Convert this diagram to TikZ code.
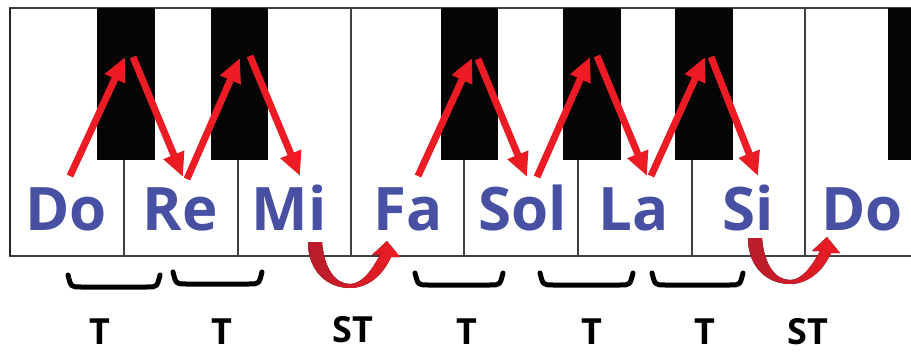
\documentclass[tikz,border=0pt]{standalone}
\usepackage{fontspec}
\setmainfont{Open Sans}
\usetikzlibrary{arrows.meta}
\definecolor{notecol}{HTML}{4750A3}
\definecolor{arrred}{HTML}{ED1C24}
\definecolor{darkred}{HTML}{B71C2A}
\definecolor{keygray}{HTML}{404040}
\begin{document}
\begin{tikzpicture}[x=1pt,y=-1pt,
  note/.style={font=\fontsize{60}{60}\selectfont\bfseries, text=notecol, anchor=base, inner sep=0pt},
  steplabel/.style={font=\fontsize{36}{36}\selectfont\bfseries, anchor=base, inner sep=0pt, text depth=0pt},
  jump/.style={draw=arrred, line width=7pt, -{Triangle[width=21pt,length=24pt]}},
  bracketline/.style={line width=5pt, line cap=round, line join=round},
  blackkey/.style={fill=black!98},
  keyborder/.style={draw=keygray, line width=1.8pt},
  curvefill/.style={left color=darkred, right color=arrred, draw=none}]
\useasboundingbox (0,0) rectangle (911,353);
% white keys
\fill[white] (10,8) rectangle (911,256);
\draw[keyborder] (911,8) -- (10,8) -- (10,256) -- (911,256);
\draw[draw=black!85, line width=2.5pt] (10,8) -- (10,256);
\foreach \x in {351,805} \draw[keyborder] (\x,8) -- (\x,256);
\foreach \x in {124,238,464,578,692} \draw[keyborder] (\x,160) -- (\x,256);
% black keys
\foreach \a/\b in {97/155,211/268,441/498,563/621,675/733,888/911}
  \fill[blackkey] (\a,8) rectangle (\b,160);
% note names
\node[note] (do1) at (66,230) {Do};
\node[note] (re)  at (180,230) {Re};
\node[note] (mi)  at (289,230) {Mi};
\node[note] (fa)  at (408,230) {Fa};
\node[note] (sol) at (523,230) {Sol};
\node[note] (la)  at (634,230) {La};
\node[note] (si)  at (748,230) {Si};
\node[note] (do2) at (862,230) {Do};
% arrow end points
\coordinate (s1) at (70,176);  \coordinate (t1) at (125,57);
\coordinate (s2) at (133,57);  \coordinate (t2) at (183,177);
\coordinate (s3) at (187,179); \coordinate (t3) at (240,58);
\coordinate (s4) at (250,56);  \coordinate (t4) at (300,176);
\coordinate (s5) at (418,176); \coordinate (t5) at (472,58);
\coordinate (s6) at (478,59);  \coordinate (t6) at (527,177);
\coordinate (s7) at (537,177); \coordinate (t7) at (590,57);
\coordinate (s8) at (597,56);  \coordinate (t8) at (647,176);
\coordinate (s9) at (651,176); \coordinate (t9) at (705,57);
\coordinate (s10) at (711,57); \coordinate (t10) at (758,176);
\foreach \i in {1,...,10} \draw[jump] (s\i) -- (t\i);
% curved semitone arrows
\foreach \dx/\dy in {0/0,440/-4}{
\begin{scope}[shift={(\dx,\dy)}]
\fill[curvefill] (308,242) .. controls (308,272) and (328,288) .. (350,288)
  .. controls (368,288) and (383,275) .. (391,257) -- (400,257) -- (387,241)
  -- (372,255) -- (380,255) .. controls (372,270) and (362,284) .. (350,284)
  .. controls (335,284) and (324,268) .. (322,242) -- cycle;
\end{scope}}
% brackets
\foreach \a/\b/\y in {68/160/287,173/262/284,415/503/285,540/633/285,652/743/285}
  \draw[bracketline] (\a,\y-12) .. controls (\a+3,\y) .. (\a+13,\y) -- (\b-13,\y) .. controls (\b-3,\y) .. (\b,\y-12);
% step labels
\node[steplabel] (st1) at (100,344) {T};
\node[steplabel] (st2) at (222,344) {T};
\node[steplabel] (st3) at (353,342) {ST};
\node[steplabel] (st4) at (467,344) {T};
\node[steplabel] (st5) at (592,344) {T};
\node[steplabel] (st6) at (705,344) {T};
\node[steplabel] (st7) at (808,344) {ST};
\end{tikzpicture}
\end{document}
